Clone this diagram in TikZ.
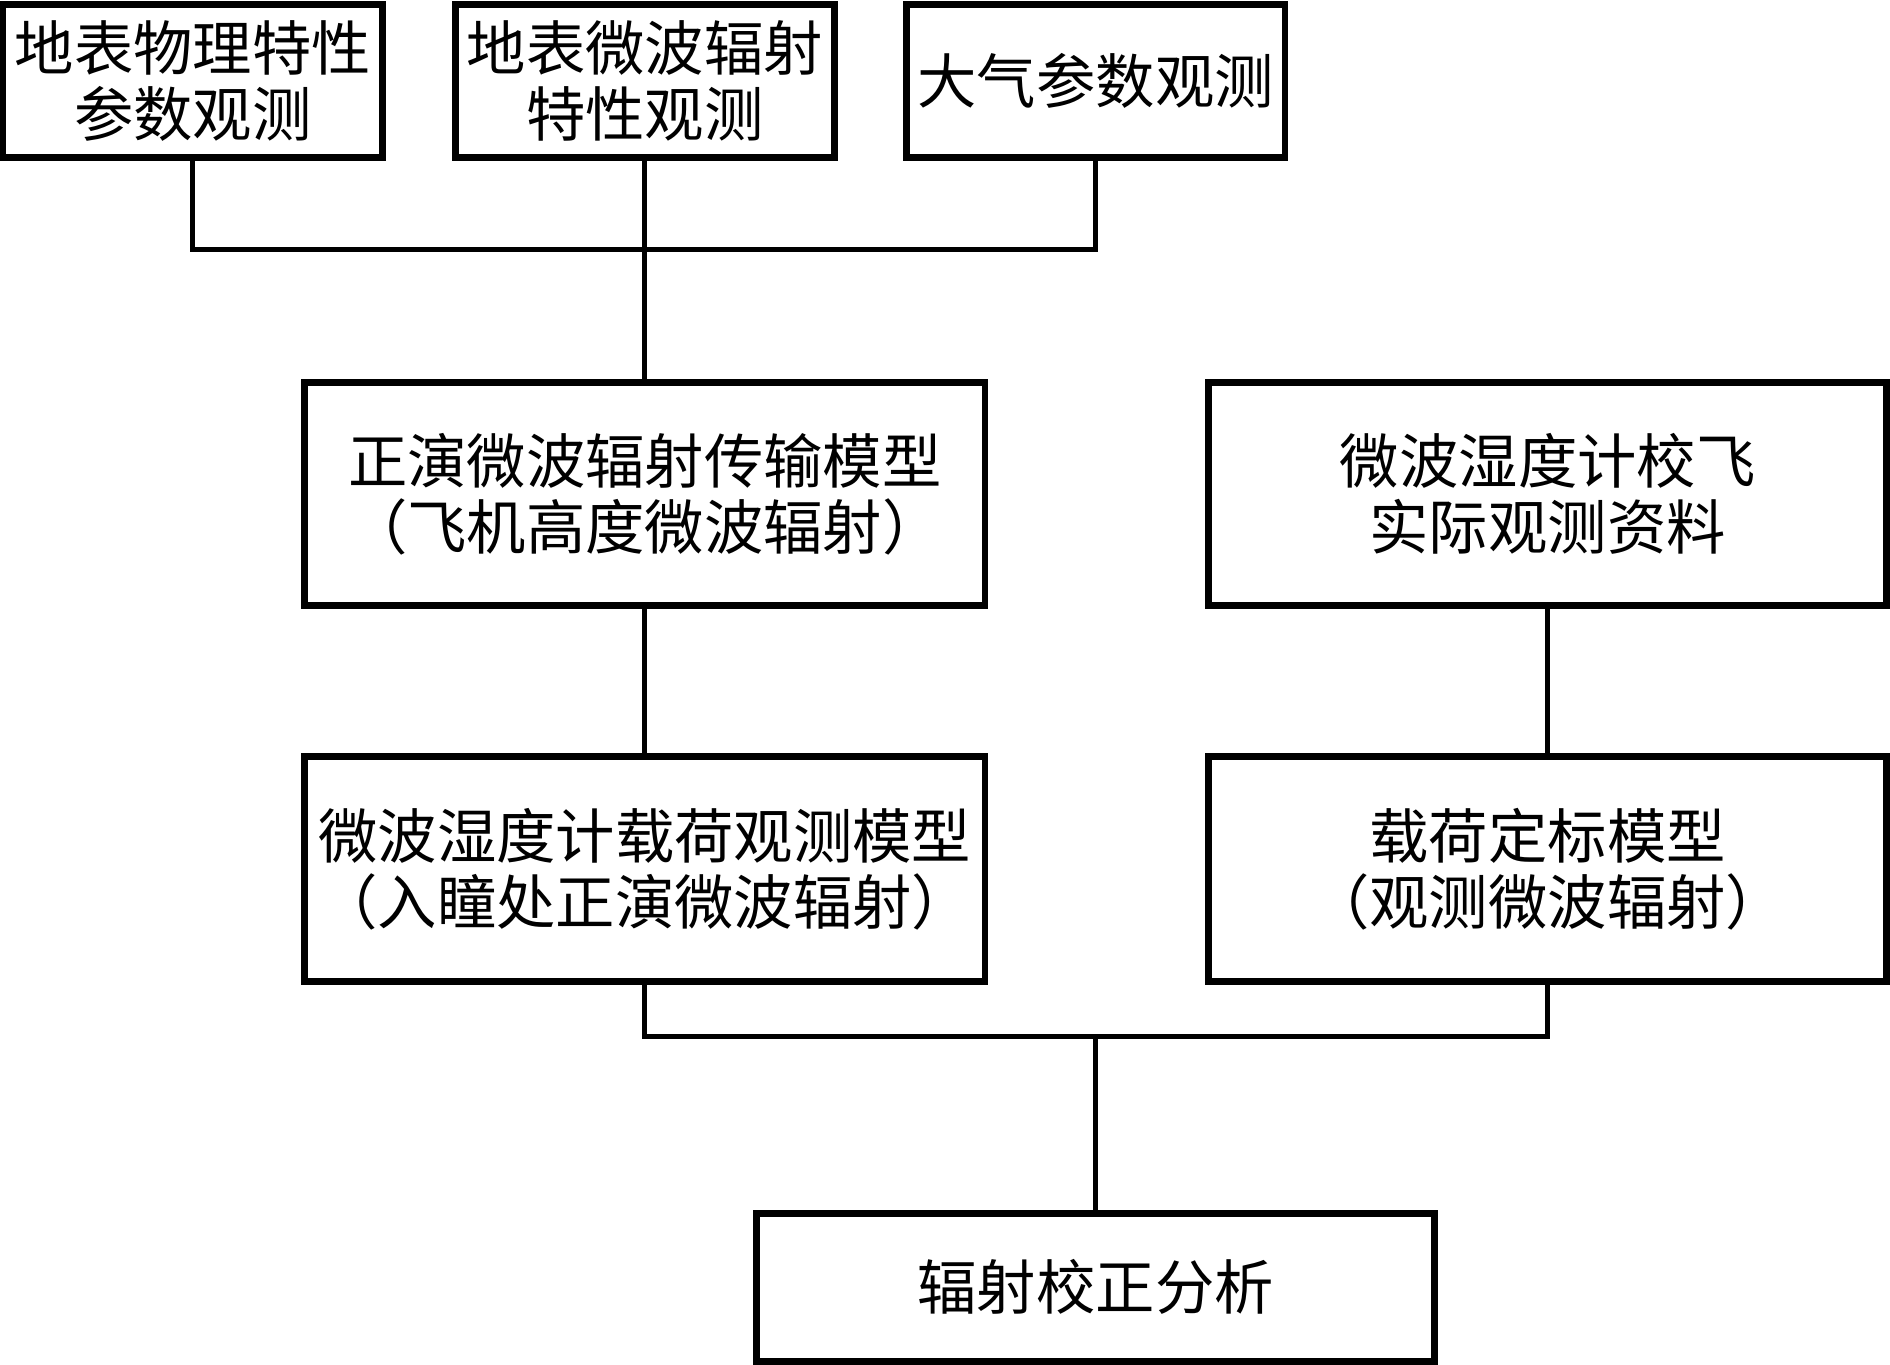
\documentclass[tikz,border=0pt]{standalone}
\usepackage{fontspec}
\setmainfont{Noto Sans CJK SC}
\usepackage{tikz}
\tikzset{
	blk/.style={draw, line width=1.6pt, rectangle, align=center, inner sep=1pt,
		font=\fontsize{14}{15.6}\selectfont},
	lnk/.style={line width=1.2pt},
}

\begin{document}
\begin{tikzpicture}[x=0.01cm,y=-0.01cm]
			% picture frame
			\useasboundingbox (0,0) rectangle (1568,1132);
			
			% top row: observations
			\node[blk, minimum width=3.15cm, minimum height=1.27cm] (phys) at (160,67) {地表物理特性\\参数观测};
			\node[blk, minimum width=3.14cm, minimum height=1.27cm] (mwobs) at (535,67) {地表微波辐射\\特性观测};
			\node[blk, minimum width=3.14cm, minimum height=1.27cm] (atmo) at (909,67) {大气参数观测};
			
			% middle rows: models
			\node[blk, minimum width=5.64cm, minimum height=1.85cm] (fwd) at (535,410) {正演微波辐射传输模型\\（飞机高度微波辐射）};
			\node[blk, minimum width=5.62cm, minimum height=1.85cm] (flight) at (1284,410) {微波湿度计校飞\\实际观测资料};
			\node[blk, minimum width=5.64cm, minimum height=1.87cm] (load) at (535,721) {微波湿度计载荷观测模型\\（入瞳处正演微波辐射）};
			\node[blk, minimum width=5.62cm, minimum height=1.87cm] (calib) at (1284,721) {载荷定标模型\\（观测微波辐射）};
			
			% bottom: analysis
			\node[blk, minimum width=5.62cm, minimum height=1.23cm] (ana) at (909,1068) {辐射校正分析};
			
			% junctions
			\coordinate (jtop) at (535,207);
			\coordinate (jbot) at (909,860);
			
			% connectors
			\draw[lnk] (phys.south) |- (jtop) -| (atmo.south);
			\draw[lnk] (mwobs.south) -- (fwd.north);
			\draw[lnk] (fwd.south) -- (load.north);
			\draw[lnk] (flight.south) -- (calib.north);
			\draw[lnk] (load.south) |- (jbot) -| (calib.south);
			\draw[lnk] (jbot) -- (ana.north);
			
\end{tikzpicture}
\end{document}
